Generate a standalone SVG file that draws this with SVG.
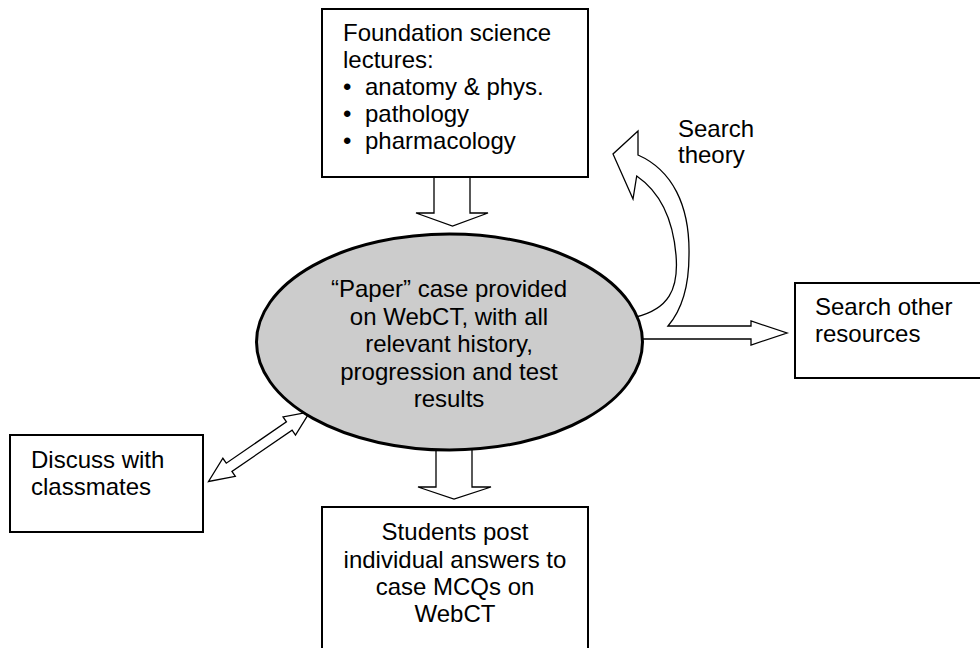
<svg xmlns="http://www.w3.org/2000/svg" width="980" height="648" viewBox="0 0 980 648">
  <style>
    .box { fill: #ffffff; stroke: #000000; stroke-width: 2; }
    .hub { fill: #cccccc; stroke: #000000; stroke-width: 3; }
    .block { fill: #ffffff; stroke: #000000; stroke-width: 1.3; stroke-linejoin: miter; }
    text { font-family: "Liberation Sans", Arial, sans-serif; font-size: 24px; fill: #000000; }
    .mid { text-anchor: middle; }
  </style>

  <rect width="980" height="648" fill="#ffffff"/>

  <!-- block arrows -->
  <g id="connectors">
    <!-- lectures feed into the case -->
    <polygon class="block" points="434,176 470,176 470,213 488,213 452.5,226 416,213 434,213"/>
    <!-- case leads to posted answers -->
    <polygon class="block" points="436,448 472,448 472,487 491,487 454,499 418,487 436,487"/>
    <!-- curved "search theory" branch joined with the straight branch to other resources -->
    <path class="block" d="M 636,317
      C 668,309 679,290 676,255
      C 673,220 660,192 636.7,176
      L 633,199 L 613,154 L 638,131 L 638,155
      C 672,170 690,205 689,255
      C 689,290 680,312 668,326
      L 751,326 L 751,321 L 787,333 L 751,345 L 751,339 L 636,339 Z"/>
    <!-- two-way exchange with classmates -->
    <polygon class="block" transform="translate(208.5,481.5) rotate(-34.5)"
      points="0,0 25,-11 25,-5 98,-5 98,-11 123,0 98,11 98,5 25,5 25,11"/>
  </g>

  <g id="lectures">
    <rect class="box" x="322" y="9" width="266" height="168"/>
    <text x="343" y="41">Foundation science</text>
    <text x="343" y="68">lectures:</text>
    <text x="343" y="95">•</text>
    <text x="365" y="95">anatomy &amp; phys.</text>
    <text x="343" y="122">•</text>
    <text x="365" y="122">pathology</text>
    <text x="343" y="149">•</text>
    <text x="365" y="149">pharmacology</text>
  </g>

  <g id="paper-case">
    <ellipse class="hub" cx="449.5" cy="342" rx="193" ry="108"/>
    <text class="mid" x="449" y="297">“Paper” case provided</text>
    <text class="mid" x="449" y="324.5">on WebCT, with all</text>
    <text class="mid" x="449" y="352">relevant history,</text>
    <text class="mid" x="449" y="379.5">progression and test</text>
    <text class="mid" x="449" y="407">results</text>
  </g>

  <g id="search-theory">
    <text x="678" y="137">Search</text>
    <text x="678" y="163">theory</text>
  </g>

  <g id="other-resources">
    <rect class="box" x="795" y="283" width="200" height="95"/>
    <text x="815" y="315">Search other</text>
    <text x="815" y="342">resources</text>
  </g>

  <g id="classmates">
    <rect class="box" x="10" y="435" width="193" height="97"/>
    <text x="31" y="467.5">Discuss with</text>
    <text x="31" y="495">classmates</text>
  </g>

  <g id="answers">
    <rect class="box" x="322" y="507" width="266" height="160"/>
    <text class="mid" x="455" y="540">Students post</text>
    <text class="mid" x="455" y="567.5">individual answers to</text>
    <text class="mid" x="455" y="595">case MCQs on</text>
    <text class="mid" x="455" y="622">WebCT</text>
  </g>
</svg>
